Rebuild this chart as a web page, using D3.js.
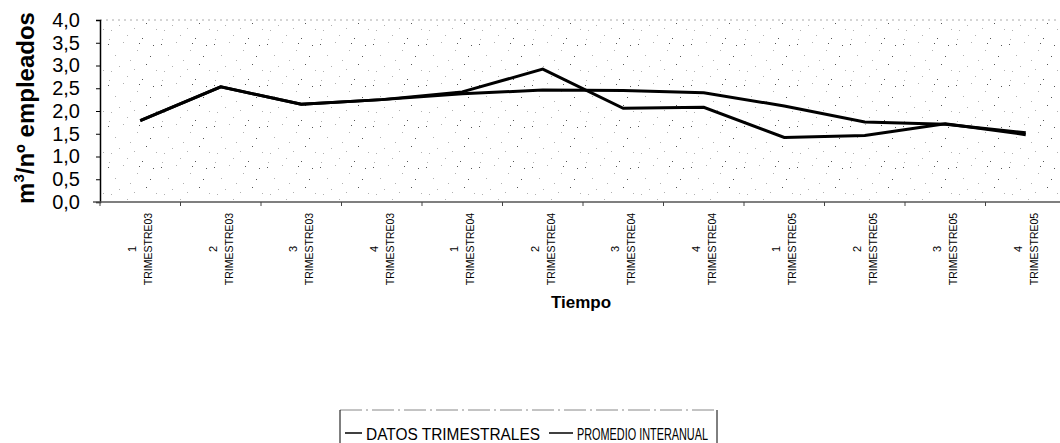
<!DOCTYPE html>
<html>
<head>
<meta charset="utf-8">
<script src="https://cdn.jsdelivr.net/npm/d3@7"></script>
<style>
  html, body { margin: 0; padding: 0; background: #fff; }
  svg { display: block; font-family: "Liberation Sans", Arial, sans-serif; }
</style>
</head>
<body>
<svg id="chart" width="1060" height="443"></svg>
<script>
// quarter number + year label, one per category
const quarterNums = ['1', '2', '3', '4', '1', '2', '3', '4', '1', '2', '3', '4'];
const quarterYears = ['TRIMESTRE03', 'TRIMESTRE03', 'TRIMESTRE03', 'TRIMESTRE03',
  'TRIMESTRE04', 'TRIMESTRE04', 'TRIMESTRE04', 'TRIMESTRE04',
  'TRIMESTRE05', 'TRIMESTRE05', 'TRIMESTRE05', 'TRIMESTRE05'];

// m3 / nº empleados
const datosTrimestrales = [1.79, 2.53, 2.15, 2.25, 2.42, 2.92, 2.06, 2.08, 1.42, 1.46, 1.72, 1.48];
const promedioInteranual = [1.79, 2.53, 2.15, 2.25, 2.38, 2.46, 2.45, 2.40, 2.11, 1.76, 1.71, 1.52];

const yTicks = [0, 0.5, 1, 1.5, 2, 2.5, 3, 3.5, 4];
const legendNames = ['DATOS TRIMESTRALES', 'PROMEDIO INTERANUAL'];

const svg = d3.select('#chart');
const plotL = 100, plotR = 1066, plotT = 20, plotB = 202;

const x = d3.scaleBand()
  .domain(d3.range(quarterNums.length))
  .range([plotL, plotR]);
const cx = i => x(i) + x.bandwidth() / 2;

const y = d3.scaleLinear().domain([0, 4]).range([plotB, plotT]);

// speckled plot background (scanned look), sparse irregular specks
const defs = svg.append('defs');
const pat = defs.append('pattern')
  .attr('id', 'speckle')
  .attr('patternUnits', 'userSpaceOnUse')
  .attr('width', 53).attr('height', 41);
const specks = [[2, 3], [17, 1], [31, 9], [47, 4], [9, 14], [24, 19], [40, 23], [5, 30], [21, 35], [36, 38],
  [50, 29], [13, 25], [44, 15], [28, 28], [3, 39], [33, 2]];
pat.selectAll('rect')
  .data(specks)
  .join('rect')
  .attr('x', d => d[0]).attr('y', d => d[1])
  .attr('width', 1).attr('height', 1)
  .attr('fill', (d, i) => i % 3 === 0 ? '#555' : '#b0b0b0');

svg.append('rect')
  .attr('x', plotL).attr('y', plotT)
  .attr('width', plotR - plotL).attr('height', plotB - plotT)
  .attr('fill', 'url(#speckle)');

// faint dotted plot border (top)
svg.append('line')
  .attr('x1', plotL).attr('x2', plotR)
  .attr('y1', plotT).attr('y2', plotT)
  .attr('stroke', '#aaa')
  .attr('stroke-width', 1)
  .attr('stroke-dasharray', '2,4');

// Y axis
const yAxis = svg.append('g')
  .attr('transform', `translate(${plotL},0)`)
  .call(d3.axisLeft(y)
    .tickValues(yTicks)
    .tickSize(4)
    .tickPadding(16)
    .tickFormat(d => d3.format('.1f')(d).replace('.', ',')));
yAxis.select('.domain').attr('stroke', '#000').attr('stroke-width', 1.5);
yAxis.selectAll('.tick line').attr('stroke', '#000');
yAxis.selectAll('.tick text')
  .attr('font-size', 20)
  .attr('fill', '#000')
  .attr('font-family', '"Liberation Sans", Arial, sans-serif');

// X axis: ticks at category boundaries
const gx = svg.append('g');
gx.append('line')
  .attr('x1', plotL - 7).attr('x2', plotR)
  .attr('y1', plotB).attr('y2', plotB)
  .attr('stroke', '#555')
  .attr('stroke-width', 1.5);
gx.selectAll('line.xt')
  .data(d3.range(quarterNums.length + 1))
  .join('line')
  .attr('class', 'xt')
  .attr('x1', i => plotL + i * x.step()).attr('x2', i => plotL + i * x.step())
  .attr('y1', plotB).attr('y2', plotB + 4)
  .attr('stroke', '#444');

const lab = gx.selectAll('g.xl')
  .data(d3.range(quarterNums.length))
  .join('g')
  .attr('class', 'xl')
  .attr('transform', i => `translate(${cx(i)},249) rotate(-90)`);
lab.append('text')
  .attr('y', -8)
  .attr('text-anchor', 'middle')
  .attr('dominant-baseline', 'central')
  .attr('font-size', 11)
  .text(i => quarterNums[i]);
lab.append('text')
  .attr('y', 8)
  .attr('text-anchor', 'middle')
  .attr('dominant-baseline', 'central')
  .attr('font-size', 10.5)
  .text(i => quarterYears[i]);

// Lines
const line = d3.line().x((d, i) => cx(i)).y(d => y(d));
[promedioInteranual, datosTrimestrales].forEach(series => {
  svg.append('path')
    .datum(series)
    .attr('d', line)
    .attr('fill', 'none')
    .attr('stroke', '#000')
    .attr('stroke-width', 3)
    .attr('stroke-linejoin', 'miter');
});

// Axis titles
const yt = svg.append('text')
  .attr('transform', 'translate(34,108) rotate(-90)')
  .attr('text-anchor', 'middle')
  .attr('font-size', 24)
  .attr('font-weight', 'bold');
yt.append('tspan').text('m');
yt.append('tspan').attr('font-size', 15).attr('dy', -10).text('3');
yt.append('tspan').attr('dy', 10).text('/nº empleados');

svg.append('text')
  .attr('x', 581).attr('y', 308)
  .attr('text-anchor', 'middle')
  .attr('font-size', 17)
  .attr('font-weight', 'bold')
  .text('Tiempo');

// Legend
const lg = svg.append('g');
lg.append('line')
  .attr('x1', 340).attr('x2', 717).attr('y1', 410).attr('y2', 410)
  .attr('stroke', '#888').attr('stroke-dasharray', '22,4,2,4');
[340, 717].forEach(xx => {
  lg.append('line')
    .attr('x1', xx).attr('x2', xx).attr('y1', 410).attr('y2', 443)
    .attr('stroke', '#000').attr('stroke-width', 1);
});
const legendX = [345, 549];
const legendW = [174, 131];
legendNames.forEach((name, i) => {
  lg.append('line')
    .attr('x1', legendX[i]).attr('x2', legendX[i] + (i === 0 ? 17 : 24))
    .attr('y1', 433).attr('y2', 433)
    .attr('stroke', '#000').attr('stroke-width', 1.5);
  lg.append('text')
    .attr('x', legendX[i] + (i === 0 ? 21 : 28))
    .attr('y', 440)
    .attr('font-size', 16)
    .attr('textLength', legendW[i])
    .attr('lengthAdjust', 'spacingAndGlyphs')
    .text(name);
});
</script>
</body>
</html>
